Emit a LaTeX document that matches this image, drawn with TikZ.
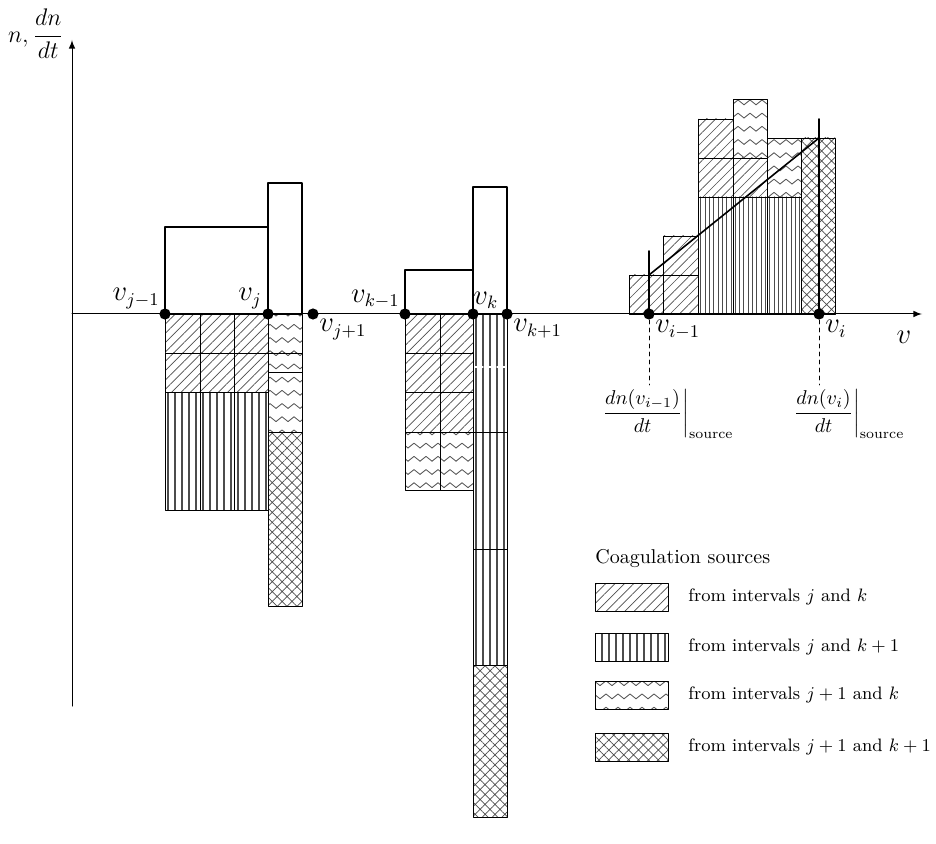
\documentclass[tikz,border=0pt]{standalone}
\usetikzlibrary{patterns.meta}

\tikzdeclarepattern{
  name=zigzag,
  type=uncolored,
  bounding box={(-0.5pt,-0.5pt) and (6.5pt,3pt)},
  tile size={(6pt,6.6pt)},
  code={
    \draw[line width=0.4pt] (0pt,0pt) -- (3pt,2.4pt) -- (6pt,0pt);
  }
}

\begin{document}
\begin{tikzpicture}[line cap=round,line join=round,x=0.5pt,y=-0.5pt,>=latex,
  cell/.style={draw=black,line width=0.45pt,pattern color=black!70},
  hatchcell/.style={cell,pattern={Lines[angle=45,distance=3.3pt,line width=0.35pt]}},
  vcell/.style={cell,pattern={Lines[angle=90,distance=3.5pt,line width=0.55pt]}},
  vdensecell/.style={cell,pattern={Lines[angle=90,distance=2.15pt,line width=0.45pt]}},
  zigcell/.style={cell,pattern=zigzag},
  crosscell/.style={cell,pattern={Hatch[angle=45,distance=3.5pt,line width=0.35pt]}},
  outline/.style={line width=0.8pt},
  ptlabel/.style={font=\fontsize{13.5}{16}\selectfont},
  dashlink/.style={line width=0.4pt,dash pattern=on 2pt off 2pt}]
  \useasboundingbox (0,0) rectangle (936,844);

  % coagulation sources below intervals j and j+1
  \draw[hatchcell] (165,314) rectangle (200,353);
  \draw[hatchcell] (200,314) rectangle (234,353);
  \draw[hatchcell] (234,314) rectangle (268,353);
  \draw[hatchcell] (165,353) rectangle (200,392);
  \draw[hatchcell] (200,353) rectangle (234,392);
  \draw[hatchcell] (234,353) rectangle (268,392);
  \draw[vcell] (165,392) rectangle (200,510);
  \draw[vcell] (200,392) rectangle (234,510);
  \draw[vcell] (234,392) rectangle (268,510);
  \draw[zigcell] (268,314) rectangle (302,353);
  \draw[zigcell] (268,353) rectangle (302,372);
  \draw[zigcell] (268,372) rectangle (302,432);
  \draw[crosscell] (268,432) rectangle (302,606);

  % coagulation sources below intervals k and k+1
  \draw[hatchcell] (405,314) rectangle (440,353);
  \draw[hatchcell] (440,314) rectangle (473,353);
  \draw[hatchcell] (405,353) rectangle (440,392);
  \draw[hatchcell] (440,353) rectangle (473,392);
  \draw[hatchcell] (405,392) rectangle (440,432);
  \draw[hatchcell] (440,392) rectangle (473,432);
  \draw[zigcell] (405,432) rectangle (440,490);
  \draw[zigcell] (440,432) rectangle (473,490);
  \draw[vcell] (473,314) rectangle (507,432);
  \draw[vcell] (473,432) rectangle (507,549);
  \draw[vcell] (473,549) rectangle (507,665);
  \draw[crosscell] (473,665) rectangle (507,817);
  \draw[white,line width=0.6pt,dash pattern=on 4pt off 1.5pt] (475,367) -- (505,367);

  % gains in intervals i-1 and i
  \draw[hatchcell] (629,275) rectangle (663,314);
  \draw[hatchcell] (663,275) rectangle (698,314);
  \draw[hatchcell] (663,236) rectangle (698,275);
  \draw[vdensecell] (698,197) rectangle (733,314);
  \draw[vdensecell] (733,197) rectangle (767,314);
  \draw[vdensecell] (767,197) rectangle (801,314);
  \draw[hatchcell] (698,158) rectangle (733,197);
  \draw[hatchcell] (698,119) rectangle (733,158);
  \draw[hatchcell] (733,158) rectangle (767,197);
  \draw[zigcell] (733,99) rectangle (767,158);
  \draw[zigcell] (767,138) rectangle (801,197);
  \draw[crosscell] (801,138) rectangle (835,314);

  % number density in intervals j, j+1, k, k+1
  \draw[outline] (165,314) -- (165,227) -- (268,227);
  \draw[outline] (268,314) rectangle (302,183);
  \draw[outline] (405,314) -- (405,270) -- (473,270);
  \draw[outline] (473,314) rectangle (507,187);

  % axes
  \coordinate (origin) at (72,314);
  \coordinate (xend) at (922,314);
  \coordinate (ybottom) at (72,706);
  \coordinate (ytop) at (72,40);
  \draw[->,line width=0.5pt] (origin) -- (xend);
  \draw[->,line width=0.5pt] (ybottom) -- (ytop);
  \node[font=\large] (ylabel) at (36,34) {$n,\displaystyle\frac{dn}{dt}$};
  \node[ptlabel] (xlabel) at (904,337) {$v$};

  % grid points
  \coordinate (vjm1) at (165,314);
  \coordinate (vj) at (268,314);
  \coordinate (vjp1) at (313,314);
  \coordinate (vkm1) at (405,314);
  \coordinate (vk) at (473,314);
  \coordinate (vkp1) at (507,314);
  \coordinate (vim1) at (649,314);
  \coordinate (vi) at (819,314);
  \coordinate (vim1top) at (649,251);
  \coordinate (vitop) at (819,119);
  \coordinate (slopea) at (649,275);
  \coordinate (slopeb) at (819,138);

  \draw[outline] (vim1) -- (vim1top);
  \draw[outline] (vi) -- (vitop);
  \draw[outline] (slopea) -- (slopeb);

  \fill (vjm1) circle (2.8pt);
  \fill (vj) circle (2.8pt);
  \fill (vjp1) circle (2.8pt);
  \fill (vkm1) circle (2.8pt);
  \fill (vk) circle (2.8pt);
  \fill (vkp1) circle (2.8pt);
  \fill (vim1) circle (2.8pt);
  \fill (vi) circle (2.8pt);

  \node[ptlabel,anchor=south east,inner sep=1.5pt] (lvjm1) at (163,312) {$v_{j-1}$};
  \node[ptlabel,anchor=south east,inner sep=1.5pt] (lvj) at (265,312) {$v_j$};
  \node[ptlabel,anchor=north west,inner sep=1.5pt] (lvjp1) at (316,316) {$v_{j+1}$};
  \node[ptlabel,anchor=south east,inner sep=1.5pt] (lvkm1) at (403,312) {$v_{k-1}$};
  \node[ptlabel,anchor=south west,inner sep=1.5pt] (lvk) at (470,312) {$v_k$};
  \node[ptlabel,anchor=north west,inner sep=1.5pt] (lvkp1) at (510,316) {$v_{k+1}$};
  \node[ptlabel,anchor=north west,inner sep=1.5pt] (lvim1) at (652,317) {$v_{i-1}$};
  \node[ptlabel,anchor=north west,inner sep=1.5pt] (lvi) at (822,317) {$v_i$};

  % source terms at the grid points
  \node (srcim1) at (667,414) {$\displaystyle\left.\frac{dn(v_{i-1})}{dt}\right|_{\mathrm{source}}$};
  \node (srci) at (848,414) {$\displaystyle\left.\frac{dn(v_i)}{dt}\right|_{\mathrm{source}}$};
  \draw[dashlink] (vim1) ++(0,6) -- (649,385);
  \draw[dashlink] (vi) ++(0,6) -- (819,385);

  % legend
  \node[anchor=west,inner sep=0pt] (legtitle) at (595,559) {Coagulation sources};
  \draw[hatchcell,line width=0.5pt] (595,583) rectangle (668,611);
  \draw[vcell,line width=0.5pt] (595,633) rectangle (668,661);
  \draw[zigcell,line width=0.5pt] (595,681) rectangle (668,709);
  \draw[crosscell,line width=0.5pt] (595,733) rectangle (668,761);
  \node[anchor=west,inner sep=0pt] (legjk) at (688,597) {\small from intervals $j$ and $k$};
  \node[anchor=west,inner sep=0pt] (legjkp) at (688,647) {\small from intervals $j$ and $k+1$};
  \node[anchor=west,inner sep=0pt] (legjpk) at (688,695) {\small from intervals $j+1$ and $k$};
  \node[anchor=west,inner sep=0pt] (legjpkp) at (688,747) {\small from intervals $j+1$ and $k+1$};
\end{tikzpicture}
\end{document}
